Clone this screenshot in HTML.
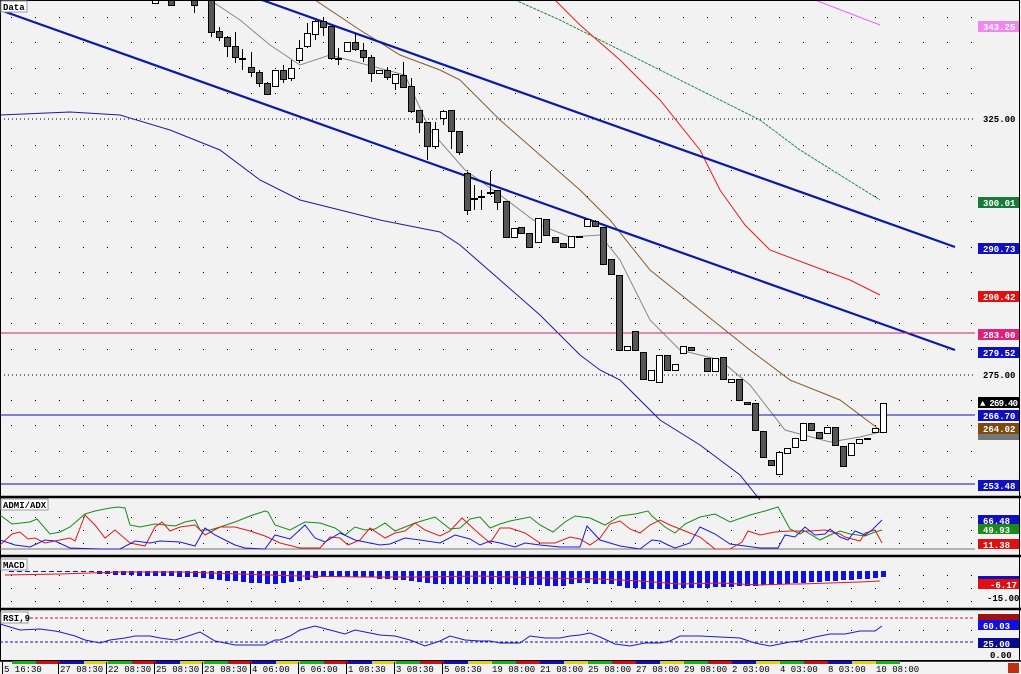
<!DOCTYPE html>
<html><head><meta charset="utf-8"><style>
html,body{margin:0;padding:0;background:#f2f2f2;}
svg{display:block;font-family:"Liberation Sans",sans-serif;}
.l{font-size:9px;font-weight:bold;fill:#fff;font-family:"Liberation Mono",monospace;}
.t{font-size:9px;font-weight:bold;fill:#000;font-family:"Liberation Mono",monospace;}
</style></head><body>
<svg id="s" width="1021" height="674" xmlns="http://www.w3.org/2000/svg">
<rect width="1021" height="674" fill="#f2f2f2"/>
<g id="grid"></g>
<line x1="0" y1="119" x2="975" y2="119" stroke="#000" stroke-dasharray="1,3"/>
<line x1="0" y1="375" x2="975" y2="375" stroke="#000" stroke-dasharray="1,3"/>
<polyline fill="none" stroke="#1a1aa0" stroke-width="1" points="0,115 70,112 120,115 170,130 220,150 260,180 300,200 340,210 380,220 420,228 440,232 460,245 500,280 540,315 580,355 600,370 620,380 660,420 700,445 740,475 760,500"/>
<polyline fill="none" stroke="#ee66ee" points="815,0 880,25"/>
<polyline fill="none" stroke="#2a8a4a" stroke-dasharray="3,1" points="515,0 560,20 600,40 650,65 700,90 760,120 800,150 840,175 880,200"/>
<polyline fill="none" stroke="#e02020" points="555,0 580,25 620,60 660,100 700,150 720,190 745,225 770,250 810,265 850,280 880,295"/>
<polyline fill="none" stroke="#8a5a2a" points="315,0 360,30 400,55 440,70 460,80 500,120 540,155 580,190 610,220 650,270 700,310 750,350 790,380 840,400 880,430"/>
<polyline fill="none" stroke="#888" points="210,0 240,20 270,45 300,65 330,55 360,63 405,75 430,130 465,170 500,195 540,225 570,237 600,235 620,260 650,320 680,350 720,360 750,385 785,430 830,442 860,437 880,432"/>
<line x1="262" y1="0" x2="955" y2="247" stroke="#0a1aa8" stroke-width="2.2"/>
<line x1="0" y1="10" x2="955" y2="350" stroke="#0a1aa8" stroke-width="2.2"/>
<line x1="0" y1="333" x2="975" y2="333" stroke="#d0206a" stroke-width="1"/>
<line x1="0" y1="415" x2="975" y2="415" stroke="#1010b0" stroke-width="1"/>
<line x1="0" y1="484" x2="975" y2="484" stroke="#1010b0" stroke-width="1"/>
<g id="candles"></g>
<rect x="0.5" y="0.5" width="1019" height="660" fill="none" stroke="#000"/>
<line x1="0" y1="497" x2="1021" y2="497" stroke="#000" stroke-width="2.5"/>
<line x1="0" y1="556" x2="1021" y2="556" stroke="#000" stroke-width="2.5"/>
<line x1="0" y1="609" x2="1021" y2="609" stroke="#000" stroke-width="2.5"/>
<line x1="0" y1="661" x2="1021" y2="661" stroke="#000" stroke-width="1.5"/>
<line x1="0" y1="549" x2="975" y2="549" stroke="#777"/>
<polyline fill="none" stroke="#1a8a1a" points="0,515 12,524 30,522 37,519 50,534 60,532 70,527 85,514 95,511 110,508 118,507 125,508 130,525 140,527 155,524 165,525 175,526 185,522 195,520 200,530 210,530 220,527 235,522 250,516 265,511 268,512 275,525 290,530 305,522 320,523 335,528 345,535 355,527 365,530 375,529 385,523 395,531 405,527 415,523 425,520 435,517 450,529 460,528 470,519 480,517 490,528 500,524 510,521 530,517 540,525 553,532 565,522 575,516 590,518 605,525 620,516 635,514 648,511 652,516 665,527 675,533 685,524 700,517 715,514 730,522 750,515 765,511 778,507 790,529 800,534 805,531 820,540 830,535 840,531 850,534 865,536 875,532 882,530"/>
<polyline fill="none" stroke="#e01a1a" points="0,545 12,534 20,532 28,539 35,538 45,543 60,540 70,538 75,541 85,515 95,525 105,538 115,530 130,543 145,546 155,527 162,522 170,531 180,527 195,525 205,535 220,527 235,527 250,531 265,536 280,543 300,548 320,548 330,537 340,538 348,545 360,540 370,528 385,538 395,533 405,531 415,523 425,530 440,536 450,531 462,518 475,530 490,543 500,528 510,528 525,533 540,543 555,543 570,537 580,539 590,545 600,538 610,524 620,521 630,529 640,533 650,525 660,520 670,525 685,531 700,537 715,549 730,549 742,542 748,531 760,535 775,532 790,531 810,531 825,530 840,534 845,537 860,541 865,533 875,530 882,543"/>
<polyline fill="none" stroke="#1a1ae0" points="0,540 15,545 30,547 45,540 55,541 70,548 100,549 120,549 135,541 150,543 160,541 180,542 195,546 205,528 215,535 225,540 235,545 245,548 265,549 275,535 290,539 305,525 315,538 325,542 340,533 355,540 380,545 390,544 405,538 420,540 440,543 455,535 470,539 480,545 490,541 500,543 515,547 525,543 540,545 560,547 580,547 587,526 600,540 620,546 640,549 652,540 660,541 668,545 675,548 690,543 700,527 715,534 730,544 760,548 778,548 785,535 795,537 805,527 815,535 825,534 830,529 840,537 848,540 855,531 865,535 872,530 882,520"/>
<g id="macd"></g>
<polyline fill="none" stroke="#e01a1a" points="5,575 60,574 120,572 180,572 240,574 300,576 360,577 420,577 480,576 540,578 600,579 640,581 680,584 720,583 760,585 790,584 800,584 830,583 860,582 880,581"/>
<line x1="0" y1="618" x2="975" y2="618" stroke="#b02020" stroke-dasharray="3,2"/>
<line x1="0" y1="642" x2="975" y2="642" stroke="#1a1aa0" stroke-dasharray="3,2"/>
<polyline fill="none" stroke="#1a1ad0" points="0,624 10,627 20,630 40,629 55,631 60,632 75,636 85,640 95,642 100,643 110,640 125,638 135,636 150,636 160,638 175,640 185,637 200,632 215,641 235,645 250,645 265,645 275,640 280,640 290,636 300,630 315,626 330,630 345,634 355,630 365,632 380,635 395,636 410,640 425,646 440,641 450,636 465,640 480,641 490,641 500,643 520,643 530,636 545,638 560,638 570,636 580,635 590,633 600,637 615,644 630,646 645,643 660,643 670,641 680,636 700,636 720,637 740,638 755,643 770,646 790,642 800,641 815,637 830,634 845,634 860,631 875,631 882,626"/>
<g font-family="Liberation Mono,monospace" font-size="9" font-weight="bold">
<rect x="1" y="1" width="26" height="11" fill="#fff" stroke="#999"/><text x="3" y="10">Data</text>
<rect x="1" y="499" width="47" height="11" fill="#fff" stroke="#999"/><text x="3" y="508">ADMI/ADX</text>
<rect x="1" y="559" width="26" height="11" fill="#fff" stroke="#999"/><text x="3" y="568">MACD</text>
<rect x="1" y="612" width="27" height="11" fill="#fff" stroke="#999"/><text x="3" y="621">RSI,9</text>
</g>
<g>
<rect x="978" y="21" width="41" height="11" fill="#ee88ee"/><text class="l" x="983" y="30">343.25</text>
<text class="t" x="983" y="122">325.00</text>
<rect x="978" y="197" width="41" height="11" fill="#1a7a3a"/><text class="l" x="983" y="206">300.01</text>
<rect x="978" y="243" width="41" height="11" fill="#1010c0"/><text class="l" x="983" y="252">290.73</text>
<rect x="978" y="291" width="41" height="11" fill="#e01010"/><text class="l" x="983" y="300">290.42</text>
<rect x="978" y="329" width="41" height="11" fill="#e0207a"/><text class="l" x="983" y="338">283.00</text>
<rect x="978" y="347" width="41" height="11" fill="#1010c0"/><text class="l" x="983" y="356">279.52</text>
<text class="t" x="983" y="378">275.00</text>
<rect x="978" y="397" width="41" height="11" fill="#000"/><text class="l" x="980" y="406" textLength="38">▲ 269.40</text>
<rect x="978" y="410" width="41" height="11" fill="#1010c0"/><text class="l" x="983" y="419">266.70</text>
<rect x="978" y="423" width="41" height="11" fill="#7a4a10"/><text class="l" x="983" y="432">264.02</text>
<rect x="978" y="434" width="41" height="6" fill="#777"/>
<rect x="978" y="480" width="41" height="11" fill="#1010c0"/><text class="l" x="983" y="489">253.48</text>
<rect x="978" y="515" width="41" height="10" fill="#1010c0"/><text class="l" x="983" y="524">66.48</text>
<rect x="978" y="524" width="41" height="10" fill="#1a8a1a"/><text class="l" x="983" y="533">49.93</text>
<rect x="978" y="539" width="41" height="10" fill="#e01010"/><text class="l" x="983" y="548">11.38</text>
<rect x="978" y="576" width="41" height="3" fill="#1010c0"/>
<rect x="978" y="579" width="41" height="10" fill="#e01010"/><text class="l" x="990" y="588">-6.17</text>
<text class="t" x="987" y="601">-15.00</text>
<rect x="978" y="614" width="41" height="7" fill="#a01010"/>
<rect x="978" y="620" width="41" height="10" fill="#1010e0"/><text class="l" x="983" y="629">60.03</text>
<rect x="978" y="638" width="41" height="10" fill="#0a0a90"/><text class="l" x="983" y="647">25.00</text>
<text class="t" x="990" y="658">0.00</text>
<rect x="1008" y="663" width="11" height="10" fill="#c03010"/>
</g>
<g id="strip"></g>
<g font-family="Liberation Mono,monospace" font-size="9" fill="#000">
<text x="4" y="672">5 16:30</text><text x="60" y="672">27 08:30</text><text x="108" y="672">22 08:30</text><text x="156" y="672">25 08:30</text><text x="204" y="672">23 08:30</text><text x="252" y="672">4 06:00</text><text x="300" y="672">6 06:00</text><text x="348" y="672">1 08:30</text><text x="396" y="672">3 08:30</text><text x="444" y="672">5 08:30</text><text x="492" y="672">19 08:00</text><text x="540" y="672">21 08:00</text><text x="588" y="672">25 08:00</text><text x="636" y="672">27 08:00</text><text x="684" y="672">29 08:00</text><text x="732" y="672">2 03:00</text><text x="780" y="672">4 03:00</text><text x="828" y="672">8 03:00</text><text x="876" y="672">10 08:00</text>
</g>
<g stroke="#000" stroke-width="1">
<line x1="2.5" y1="662" x2="2.5" y2="674"/><line x1="58.5" y1="662" x2="58.5" y2="674"/><line x1="106.5" y1="662" x2="106.5" y2="674"/><line x1="154.5" y1="662" x2="154.5" y2="674"/><line x1="202.5" y1="662" x2="202.5" y2="674"/><line x1="250.5" y1="662" x2="250.5" y2="674"/><line x1="298.5" y1="662" x2="298.5" y2="674"/><line x1="346.5" y1="662" x2="346.5" y2="674"/><line x1="394.5" y1="662" x2="394.5" y2="674"/><line x1="442.5" y1="662" x2="442.5" y2="674"/>
</g>
</svg>
<script>
var NS="http://www.w3.org/2000/svg";
function el(p,t,a){var e=document.createElementNS(NS,t);for(var k in a)e.setAttribute(k,a[k]);document.getElementById(p).appendChild(e);return e;}
var ys=[17,42,68,93,145,170,196,221,247,272,298,323,349,400,425,451,476];
for(var x=11;x<975;x+=24){for(var i=0;i<ys.length;i++)el("grid","rect",{x:x,y:ys[i],width:1,height:1,fill:"#000"});
 [517,530,543,575,588,601,630].forEach(function(y){el("grid","rect",{x:x,y:y,width:1,height:1,fill:"#000"});});}
var C=[[155,0,3,0,3,0],[171,0,5,0,5,1],[194,0,5,0,13,1],[211,0,32,0,37,1],[219,31,37,27,41,1],[227,37,46,36,57,1],[235,46,57,32,63,1],[242,58,58,49,70,1],[251,67,72,52,77,1],[259,72,83,70,87,1],[267,83,94,82,95,1],[275,70,86,70,86,0],[283,70,79,65,83,1],[291,68,78,60,81,0],[299,48,60,40,63,0],[307,33,46,23,48,0],[315,21,34,20,40,0],[323,21,27,17,36,1],[331,26,58,26,60,1],[338,58,58,48,65,0],[347,42,51,42,51,0],[355,42,49,33,51,1],[363,50,57,43,62,1],[371,57,73,55,82,1],[379,70,73,70,73,0],[387,70,77,67,80,1],[395,74,83,74,90,0],[403,75,87,62,88,1],[411,86,111,78,113,1],[419,110,122,110,133,1],[427,122,146,122,160,1],[435,129,146,122,149,0],[443,111,118,110,125,0],[451,110,131,110,149,1],[459,131,152,131,155,1],[467,173,210,172,215,1],[474,198,198,185,210,1],[481,196,196,190,210,0],[490,192,192,171,195,0],[497,190,202,190,210,1],[506,201,237,201,238,1],[514,228,237,228,237,0],[521,227,233,227,233,1],[529,233,247,233,247,1],[538,218,242,218,242,0],[546,219,235,219,235,1],[555,237,242,237,242,1],[563,243,247,243,247,1],[571,236,247,236,247,0],[579,236,237,236,237,1],[587,219,226,219,226,0],[595,221,226,220,226,1],[603,227,264,227,264,1],[611,259,274,259,274,1],[619,275,350,275,350,1],[627,346,350,346,350,0],[635,331,350,331,350,1],[643,352,379,352,379,1],[651,370,380,370,380,0],[659,355,382,355,382,0],[667,355,370,355,370,1],[675,364,370,364,370,0],[683,346,353,346,353,0],[691,347,350,347,350,1],[707,358,371,358,371,1],[715,358,371,358,371,0],[723,357,379,357,379,1],[731,379,382,379,382,0],[739,379,400,379,400,1],[747,402,404,402,404,1],[755,403,430,403,430,1],[763,431,457,431,457,1],[771,460,465,460,465,1],[779,452,474,452,474,0],[787,448,453,448,453,0],[795,438,447,438,447,0],[803,423,440,423,440,0],[811,423,430,423,430,1],[819,432,438,432,438,1],[827,427,433,427,433,0],[835,427,445,427,445,1],[843,446,466,446,466,1],[851,443,455,443,455,0],[859,439,443,439,443,0],[867,438,438,438,438,1],[875,428,432,428,432,0],[883,403,432,403,432,0]];
C.forEach(function(c){
 el("candles","line",{x1:c[0]+.5,x2:c[0]+.5,y1:c[3],y2:c[4],stroke:"#000"});
 var h=Math.max(1,c[2]-c[1]);
 el("candles","rect",{x:c[0]-2.5,y:c[1]+.5,width:6,height:h,fill:c[5]?"#555":"#fff",stroke:"#000","stroke-width":1});
});
var K=[[0,1],[90,1],[98,3],[150,5],[200,6],[210,8],[255,12],[270,13],[300,10],[320,6],[370,6],[380,8],[415,10],[430,13],[500,13],[560,15],[580,12],[610,13],[625,17],[660,18],[700,17],[750,15],[800,12],[850,9],[875,7],[883,6]];
function hv(x){for(var i=1;i<K.length;i++){if(x<=K[i][0]){var a=K[i-1],b=K[i];return a[1]+(b[1]-a[1])*(x-a[0])/(b[0]-a[0]);}}return 6;}
for(var x=11;x<=883;x+=8){var h=Math.round(hv(x));el("macd","rect",{x:x-2,y:571,width:5,height:h,fill:"#1010e0"});}
var col=["#1ab01a","#d01010","#1010c0","#e0d010"];
for(var i=0;i<40;i++){var x=12+i*24;if(x>880)break;el("strip","rect",{x:x,y:661,width:24,height:3,fill:col[i%4]});}
</script>
</body></html>
